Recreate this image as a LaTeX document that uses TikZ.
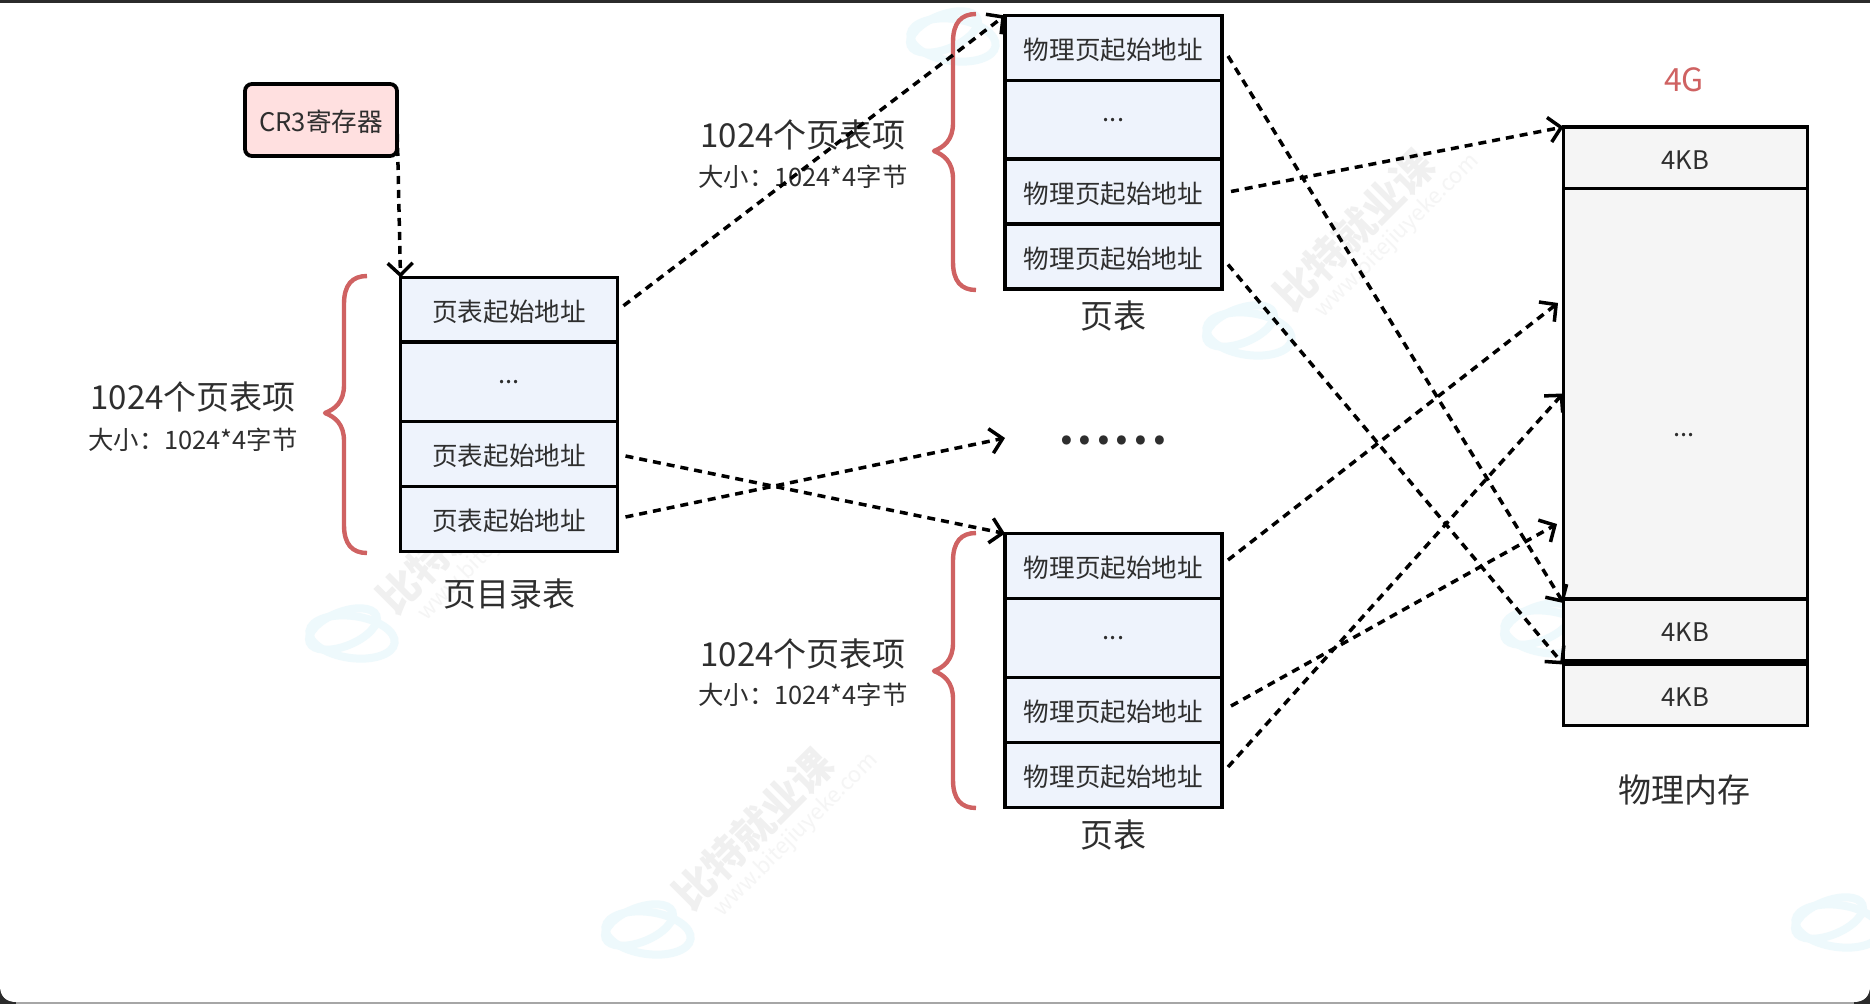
\documentclass[tikz,border=0pt]{standalone}
\usepackage{fontspec}
\setmainfont{Noto Sans CJK SC}
\usetikzlibrary{arrows.meta}
\definecolor{ink}{HTML}{2E2E2E}
\definecolor{bracered}{HTML}{CF6262}
\definecolor{rowblue}{HTML}{EEF3FC}
\definecolor{rowgray}{HTML}{F5F5F5}
\definecolor{crpink}{HTML}{FFE0E0}
\definecolor{wmtext}{HTML}{F0F0F0}
\definecolor{wmring}{HTML}{EEF9FC}
\newcommand{\fsz}[1]{\fontsize{#1}{#1}\selectfont}
\tikzset{
  x=1pt,y=-1pt,
  cellbox/.style={draw=black,line width=3.8pt,outer sep=0pt,inner sep=0pt,anchor=north west,text=ink,font=\fsz{25.6},align=center},
  lowered/.style={text height=24pt,text depth=1pt},
  tabrow/.style={cellbox,fill=rowblue,minimum width=217pt},
  dirrow/.style={cellbox,fill=rowblue,minimum width=217pt},
  memrow/.style={cellbox,fill=rowgray,minimum width=244pt},
  link/.style={draw=black,line width=3.5pt,dash pattern=on 8pt off 6pt,-{Straight Barb[length=12pt,width=25pt,line width=3.5pt]}},
  biglabel/.style={text=ink,font=\fsz{33},inner sep=0pt},
  sizelabel/.style={text=ink,font=\fsz{25.4},inner sep=0pt},
  redbrace/.style={draw=bracered,line width=4.4pt,line join=round},
  wmword/.style={text=wmtext,font=\fsz{41}\bfseries,rotate=45,inner sep=0pt},
  wmurl/.style={text=wmtext!70!white,font=\fsz{22},rotate=45,inner sep=0pt},
  wmloop/.style={draw=wmring,line width=8pt}
}
\newcommand{\leftbrace}[4]{% xtip, ytop, ymid, ybot
  \draw[redbrace] (#1+42,#2) .. controls (#1+27,#2) and (#1+19,#2+9) .. (#1+19,#2+28)
    -- (#1+19,#3-28) .. controls (#1+19,#3-11) and (#1+10,#3-4) .. (#1,#3)
    .. controls (#1+10,#3+4) and (#1+19,#3+11) .. (#1+19,#3+28)
    -- (#1+19,#4-28) .. controls (#1+19,#4-9) and (#1+27,#4) .. (#1+42,#4);
}
\newcommand{\ringmark}[2]{%
  \draw[wmloop,rotate around={22:(#1-9,#2-8)}] (#1-9,#2-8) ellipse [x radius=36pt,y radius=17pt];
  \draw[wmloop,rotate around={-8:(#1,#2)}] (#1,#2) ellipse [x radius=43pt,y radius=21pt];
}
\begin{document}
\begin{tikzpicture}
\useasboundingbox (0,0) rectangle (1870,1004);
% window frame
\fill[black!83] (0,0) rectangle (1870,1004);
\fill[white] (0,3) -- (1870,3) -- (1870,986) .. controls (1870,996) and (1864,1002) .. (1854,1002) -- (16,1002) .. controls (6,1002) and (0,996) .. (0,986) -- cycle;
\fill[black!35] (16,1002) rectangle (1854,1004);
% watermarks
\ringmark{953}{40}
\ringmark{1249}{334}
\ringmark{352}{637}
\ringmark{1547}{632}
\ringmark{648}{933}
\ringmark{1838}{926}
\node[wmword] (w1) at (1354,230) {比特就业课};
\node[wmurl] (u1) at (1397,236) {www.bitejiuyeke.com};
\node[wmword] (w2) at (457,533) {比特就业课};
\node[wmurl] (u2) at (500,539) {www.bitejiuyeke.com};
\node[wmword] (w3) at (1652,528) {比特就业课};
\node[wmurl] (u3) at (1695,534) {www.bitejiuyeke.com};
\node[wmword] (w4) at (753,829) {比特就业课};
\node[wmurl] (u4) at (796,835) {www.bitejiuyeke.com};

% CR3
\node[draw=black,line width=3.8pt,fill=crpink,rounded corners=7pt,minimum width=152pt,minimum height=72pt,outer sep=0pt,inner sep=0pt,text=ink,font=\fsz{25.6},lowered] (cr3) at (321,120) {CR3寄存器};

% page directory
\node[dirrow,lowered,minimum height=64.5pt] (d1) at (400.5,277.5) {页表起始地址};
\node[dirrow,minimum height=79.5pt] (d2) at (400.5,342) {...};
\node[dirrow,lowered,minimum height=65pt] (d3) at (400.5,421.5) {页表起始地址};
\node[dirrow,lowered,minimum height=65pt] (d4) at (400.5,486.5) {页表起始地址};
\node[biglabel] (dirname) at (509,594) {页目录表};
\leftbrace{325}{276}{413}{553}
\node[biglabel] (ln1) at (193,397) {1024个页表项};
\node[sizelabel] (ls1) at (193,440) {大小：1024*4字节};

% upper page table
\node[tabrow,lowered,minimum height=65pt] (t1) at (1005,15.5) {物理页起始地址};
\node[tabrow,minimum height=79pt] (t2) at (1005,80.5) {...};
\node[tabrow,lowered,minimum height=65pt] (t3) at (1005,159) {物理页起始地址};
\node[tabrow,lowered,minimum height=65pt] (t4) at (1005,224) {物理页起始地址};
\node[biglabel] (tname) at (1113,316) {页表};
\leftbrace{934}{14}{151}{290}
\node[biglabel] (ln2) at (803,135) {1024个页表项};
\node[sizelabel] (ls2) at (803,177) {大小：1024*4字节};

% lower page table
\node[tabrow,lowered,minimum height=65pt] (b1) at (1005,533.5) {物理页起始地址};
\node[tabrow,minimum height=79pt] (b2) at (1005,598.5) {...};
\node[tabrow,lowered,minimum height=65pt] (b3) at (1005,677.5) {物理页起始地址};
\node[tabrow,lowered,minimum height=65pt] (b4) at (1005,742.5) {物理页起始地址};
\node[biglabel] (bname) at (1113,835) {页表};
\leftbrace{934}{533}{671}{808}
\node[biglabel] (ln3) at (803,653.5) {1024个页表项};
\node[sizelabel] (ls3) at (803,695) {大小：1024*4字节};

% dots between tables
\node[inner sep=0pt,text=ink,font=\fsz{42}\bfseries] (gap) at (1113,440) {\hbox to 108pt{.\hfil.\hfil.\hfil.\hfil.\hfil.}};
\coordinate (gapin) at (1005,438);

% physical memory
\node[memrow,lowered,minimum height=61.5pt] (m1) at (1563.5,127) {4KB};
\node[memrow,minimum height=410.5pt] (m2) at (1563.5,188.5) {};
\node[inner sep=0pt,text=ink,font=\fsz{25.6}] (mdots) at (1684,435) {...};
\node[memrow,lowered,minimum height=61.5pt] (m3) at (1563.5,599) {4KB};
\node[memrow,lowered,minimum height=61.5pt] (m4) at (1563.5,664) {4KB};
\node[text=bracered,font=\fsz{32},inner sep=0pt] (gb) at (1684,80) {4G};
\node[biglabel] (memname) at (1684,789.5) {物理内存};
\coordinate (mema) at (1558,303);
\coordinate (memb) at (1563,393.5);
\coordinate (memc) at (1557,524);

% connectors
\draw[link] (cr3.east) -- (d1.north west);
\draw[link] ([shift={(6,-4)}]d1.east) -- (t1.north west);
\draw[link] ([shift={(8,2)}]d3.east) -- (b1.north west);
\draw[link] ([shift={(8,-2)}]d4.east) -- (gapin);
\draw[link] ([shift={(6,8)}]t1.east) -- ([yshift=-4]m3.north west);
\draw[link] ([shift={(9,0)}]t3.east) -- (m1.north west);
\draw[link] ([shift={(6,8)}]t4.east) -- ([yshift=-4]m3.south west);
\draw[link] ([shift={(6,-6)}]b1.east) -- (mema);
\draw[link] ([shift={(9,-4)}]b3.east) -- (memc);
\draw[link] ([shift={(6,-8)}]b4.east) -- (memb);
\end{tikzpicture}
\end{document}
